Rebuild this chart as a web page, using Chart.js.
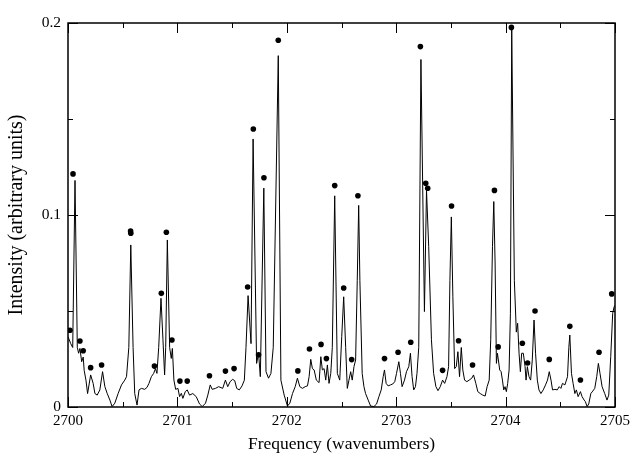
<!DOCTYPE html>
<html>
<head>
<meta charset="utf-8">
<script src="https://cdn.jsdelivr.net/npm/chart.js@4/dist/chart.umd.min.js"></script>
<style>
  body { margin: 0; background: #fff; }
</style>
</head>
<body>
<canvas id="spectrum" width="635" height="459"></canvas>
<script>
// measured spectrum (frequency in wavenumbers, intensity in arbitrary units)
var specX = [
  2700.000, 2700.025, 2700.043, 2700.064, 2700.085, 2700.097, 2700.109, 2700.125, 2700.139, 2700.148,
  2700.164, 2700.179, 2700.207, 2700.230, 2700.246, 2700.267, 2700.291, 2700.316, 2700.337, 2700.358,
  2700.383, 2700.403, 2700.428, 2700.458, 2700.489, 2700.519, 2700.535, 2700.556, 2700.574, 2700.595,
  2700.610, 2700.631, 2700.649, 2700.671, 2700.701, 2700.722, 2700.740, 2700.762, 2700.783, 2700.799,
  2700.813, 2700.829, 2700.850, 2700.868, 2700.883, 2700.893, 2700.908, 2700.929, 2700.944, 2700.954,
  2700.968, 2700.984, 2701.005, 2701.020, 2701.036, 2701.050, 2701.072, 2701.090, 2701.111, 2701.141,
  2701.172, 2701.202, 2701.227, 2701.257, 2701.278, 2701.300, 2701.318, 2701.348, 2701.378, 2701.414,
  2701.439, 2701.460, 2701.482, 2701.505, 2701.524, 2701.542, 2701.566, 2701.591, 2701.612, 2701.627,
  2701.646, 2701.673, 2701.692, 2701.724, 2701.742, 2701.758, 2701.790, 2701.810, 2701.833, 2701.855,
  2701.876, 2701.922, 2701.946, 2701.976, 2702.006, 2702.028, 2702.052, 2702.077, 2702.097, 2702.119,
  2702.143, 2702.168, 2702.189, 2702.204, 2702.219, 2702.234, 2702.250, 2702.270, 2702.295, 2702.311,
  2702.325, 2702.341, 2702.356, 2702.371, 2702.386, 2702.402, 2702.416, 2702.438, 2702.462, 2702.484,
  2702.502, 2702.520, 2702.538, 2702.553, 2702.568, 2702.584, 2702.598, 2702.614, 2702.629, 2702.644,
  2702.657, 2702.668, 2702.689, 2702.705, 2702.720, 2702.744, 2702.766, 2702.796, 2702.821, 2702.842,
  2702.863, 2702.881, 2702.893, 2702.908, 2702.926, 2702.948, 2702.969, 2702.987, 2703.003, 2703.024,
  2703.039, 2703.054, 2703.076, 2703.094, 2703.115, 2703.130, 2703.145, 2703.160, 2703.176, 2703.190,
  2703.206, 2703.226, 2703.258, 2703.277, 2703.297, 2703.322, 2703.342, 2703.363, 2703.382, 2703.403,
  2703.424, 2703.443, 2703.464, 2703.479, 2703.491, 2703.504, 2703.518, 2703.534, 2703.549, 2703.564,
  2703.579, 2703.595, 2703.609, 2703.625, 2703.646, 2703.667, 2703.691, 2703.707, 2703.728, 2703.746,
  2703.768, 2703.791, 2703.813, 2703.831, 2703.850, 2703.864, 2703.880, 2703.892, 2703.904, 2703.916,
  2703.925, 2703.934, 2703.946, 2703.959, 2703.971, 2703.983, 2703.995, 2704.007, 2704.019, 2704.032,
  2704.044, 2704.056, 2704.080, 2704.098, 2704.110, 2704.123, 2704.135, 2704.147, 2704.162, 2704.178,
  2704.187, 2704.199, 2704.214, 2704.229, 2704.244, 2704.260, 2704.274, 2704.290, 2704.305, 2704.323,
  2704.344, 2704.365, 2704.383, 2704.399, 2704.415, 2704.429, 2704.451, 2704.472, 2704.490, 2704.505,
  2704.520, 2704.542, 2704.566, 2704.578, 2704.587, 2704.602, 2704.617, 2704.633, 2704.647, 2704.663,
  2704.684, 2704.699, 2704.718, 2704.729, 2704.745, 2704.760, 2704.779, 2704.797, 2704.815, 2704.833,
  2704.848, 2704.863, 2704.882, 2704.906, 2704.927, 2704.943, 2704.961, 2704.979, 2704.991, 2705.000
];
var specY = [
  0.0366, 0.0330, 0.0310, 0.1180, 0.0310, 0.0280, 0.0305, 0.0236, 0.0260, 0.0190,
  0.0140, 0.0070, 0.0167, 0.0123, 0.0070, 0.0062, 0.0089, 0.0184, 0.0106, 0.0071,
  0.0036, 0.0002, 0.0020, 0.0070, 0.0115, 0.0140, 0.0158, 0.0310, 0.0844, 0.0310,
  0.0070, 0.0010, 0.0089, 0.0097, 0.0092, 0.0102, 0.0123, 0.0158, 0.0175, 0.0200,
  0.0175, 0.0310, 0.0566, 0.0350, 0.0167, 0.0310, 0.0870, 0.0310, 0.0253, 0.0305,
  0.0140, 0.0092, 0.0097, 0.0054, 0.0071, 0.0045, 0.0080, 0.0089, 0.0062, 0.0070,
  0.0054, 0.0016, 0.0002, 0.0020, 0.0062, 0.0115, 0.0092, 0.0097, 0.0106, 0.0097,
  0.0140, 0.0106, 0.0132, 0.0144, 0.0137, 0.0097, 0.0089, 0.0110, 0.0140, 0.0310,
  0.0580, 0.0330, 0.1396, 0.0227, 0.0280, 0.0158, 0.1140, 0.0184, 0.0150, 0.0175,
  0.0310, 0.1830, 0.0140, 0.0062, 0.0005, 0.0020, 0.0070, 0.0106, 0.0150, 0.0106,
  0.0097, 0.0106, 0.0110, 0.0158, 0.0248, 0.0200, 0.0193, 0.0140, 0.0127, 0.0262,
  0.0193, 0.0200, 0.0140, 0.0219, 0.0123, 0.0175, 0.0310, 0.1100, 0.0175, 0.0140,
  0.0366, 0.0574, 0.0310, 0.0097, 0.0140, 0.0184, 0.0140, 0.0210, 0.0245, 0.0660,
  0.1050, 0.0660, 0.0175, 0.0106, 0.0070, 0.0036, 0.0005, 0.0002, 0.0016, 0.0054,
  0.0089, 0.0158, 0.0193, 0.0123, 0.0110, 0.0115, 0.0120, 0.0132, 0.0175, 0.0236,
  0.0175, 0.0106, 0.0140, 0.0184, 0.0210, 0.0280, 0.0158, 0.0089, 0.0106, 0.0175,
  0.0310, 0.1810, 0.0497, 0.1130, 0.0835, 0.0350, 0.0175, 0.0106, 0.0085, 0.0106,
  0.0140, 0.0123, 0.0158, 0.0210, 0.0660, 0.0990, 0.0574, 0.0200, 0.0210, 0.0288,
  0.0158, 0.0310, 0.0193, 0.0140, 0.0132, 0.0140, 0.0150, 0.0167, 0.0123, 0.0080,
  0.0070, 0.0062, 0.0057, 0.0106, 0.0140, 0.0350, 0.0835, 0.1070, 0.0750, 0.0227,
  0.0280, 0.0245, 0.0193, 0.0184, 0.0140, 0.0089, 0.0106, 0.0080, 0.0123, 0.0193,
  0.0488, 0.1970, 0.0660, 0.0390, 0.0436, 0.0280, 0.0184, 0.0280, 0.0280, 0.0210,
  0.0140, 0.0210, 0.0158, 0.0140, 0.0245, 0.0453, 0.0280, 0.0140, 0.0089, 0.0070,
  0.0089, 0.0115, 0.0140, 0.0184, 0.0140, 0.0089, 0.0092, 0.0089, 0.0106, 0.0097,
  0.0123, 0.0115, 0.0158, 0.0310, 0.0375, 0.0175, 0.0123, 0.0070, 0.0089, 0.0054,
  0.0080, 0.0054, 0.0036, 0.0028, 0.0002, 0.0016, 0.0070, 0.0083, 0.0097, 0.0158,
  0.0227, 0.0175, 0.0106, 0.0070, 0.0036, 0.0062, 0.0262, 0.0488, 0.0520, 0.0530
];

// fitted line positions and strengths (dots)
var lineX = [
  2700.018, 2700.046, 2700.109, 2700.139, 2700.207, 2700.307, 2700.572, 2700.574, 2700.790, 2700.853,
  2700.899, 2700.950, 2701.023, 2701.090, 2701.293, 2701.439, 2701.518, 2701.642, 2701.694, 2701.742,
  2701.791, 2701.922, 2702.101, 2702.207, 2702.313, 2702.362, 2702.438, 2702.520, 2702.593, 2702.650,
  2702.893, 2703.017, 2703.133, 2703.221, 2703.270, 2703.288, 2703.424, 2703.506, 2703.570, 2703.698,
  2703.898, 2703.932, 2704.053, 2704.153, 2704.201, 2704.269, 2704.399, 2704.587, 2704.684, 2704.854,
  2704.970
];
var lineY = [
  0.0400, 0.1214, 0.0344, 0.0293, 0.0205, 0.0219, 0.0917, 0.0905, 0.0213, 0.0592,
  0.0910, 0.0349, 0.0135, 0.0135, 0.0163, 0.0187, 0.0200, 0.0625, 0.1448, 0.0272,
  0.1194, 0.1910, 0.0188, 0.0302, 0.0326, 0.0252, 0.1153, 0.0620, 0.0247, 0.1100,
  0.0252, 0.0285, 0.0337, 0.1877, 0.1165, 0.1139, 0.0191, 0.1047, 0.0345, 0.0219,
  0.1128, 0.0313, 0.1977, 0.0332, 0.0229, 0.0500, 0.0248, 0.0420, 0.0141, 0.0285,
  0.0589
];

var xMajor = [2700, 2701, 2702, 2703, 2704, 2705];
var yMajor = [0, 0.1, 0.2];

var spectrumData = specX.map(function (x, i) { return { x: x, y: specY[i] }; });
var lineData = lineX.map(function (x, i) { return { x: x, y: lineY[i] }; });

// inward ticks on all four sides + box frame
var frameTicks = {
  id: 'frameTicks',
  afterDraw: function (chart) {
    var ctx = chart.ctx;
    var a = chart.chartArea;
    var xs = chart.scales.x;
    var ys = chart.scales.y;
    ctx.save();
    ctx.strokeStyle = '#000';
    ctx.lineWidth = 1;
    ctx.beginPath();
    var i, v, p, len;
    for (i = 0; i < xMajor.length; i++) {
      [0, 0.5].forEach(function (off) {
        v = xMajor[i] + off;
        if (v > 2705) return;
        p = Math.round(xs.getPixelForValue(v)) + 0.5;
        len = off === 0 ? 10 : 5;
        ctx.moveTo(p, a.bottom); ctx.lineTo(p, a.bottom - len);
        ctx.moveTo(p, a.top); ctx.lineTo(p, a.top + len);
      });
    }
    for (i = 0; i < yMajor.length; i++) {
      [0, 0.05].forEach(function (off) {
        v = yMajor[i] + off;
        if (v > 0.2001) return;
        p = Math.round(ys.getPixelForValue(v)) + 0.5;
        len = off === 0 ? 10 : 5;
        ctx.moveTo(a.left, p); ctx.lineTo(a.left + len, p);
        ctx.moveTo(a.right, p); ctx.lineTo(a.right - len, p);
      });
    }
    ctx.stroke();
    ctx.lineWidth = 1.5;
    ctx.strokeRect(a.left, a.top, a.right - a.left, a.bottom - a.top);
    ctx.restore();
  }
};

var myChart = new Chart("spectrum", {
  type: "scatter",
  data: {
    datasets: [
      {
        label: 'Spectrum',
        data: spectrumData,
        showLine: true,
        borderColor: '#000',
        borderWidth: 1,
        pointRadius: 0,
        tension: 0
      },
      {
        label: 'Lines',
        data: lineData,
        showLine: false,
        backgroundColor: '#000',
        borderColor: '#000',
        pointRadius: 2.8,
        borderWidth: 0
      }
    ]
  },
  options: {
    responsive: false,
    animation: false,
    layout: { padding: { left: 1, right: 18, top: 23, bottom: 0 } },
    plugins: {
      legend: { display: false },
      tooltip: { enabled: false }
    },
    scales: {
      x: {
        type: 'linear',
        min: 2700,
        max: 2705,
        afterFit: function (scale) { scale.height = 52; },
        grid: { display: false, drawTicks: false },
        border: { display: false },
        ticks: {
          stepSize: 1,
          padding: 5,
          color: '#000',
          font: { family: 'Liberation Serif', size: 15 },
          callback: function (v) { return String(v); }
        },
        title: {
          display: true,
          text: 'Frequency (wavenumbers)',
          color: '#000',
          font: { family: 'Liberation Serif', size: 17.5 },
          padding: { top: 0, bottom: 4 }
        }
      },
      y: {
        min: 0,
        max: 0.2,
        afterFit: function (scale) { scale.width = 67; },
        grid: { display: false, drawTicks: false },
        border: { display: false },
        ticks: {
          stepSize: 0.1,
          padding: 7,
          color: '#000',
          font: { family: 'Liberation Serif', size: 15.5 },
          callback: function (v) { return v === 0 ? '0' : v.toFixed(1); }
        },
        title: {
          display: true,
          text: 'Intensity (arbitrary units)',
          color: '#000',
          font: { family: 'Liberation Serif', size: 20 },
          padding: { top: 4, bottom: 0 }
        }
      }
    }
  },
  plugins: [frameTicks]
});
</script>
</body>
</html>
